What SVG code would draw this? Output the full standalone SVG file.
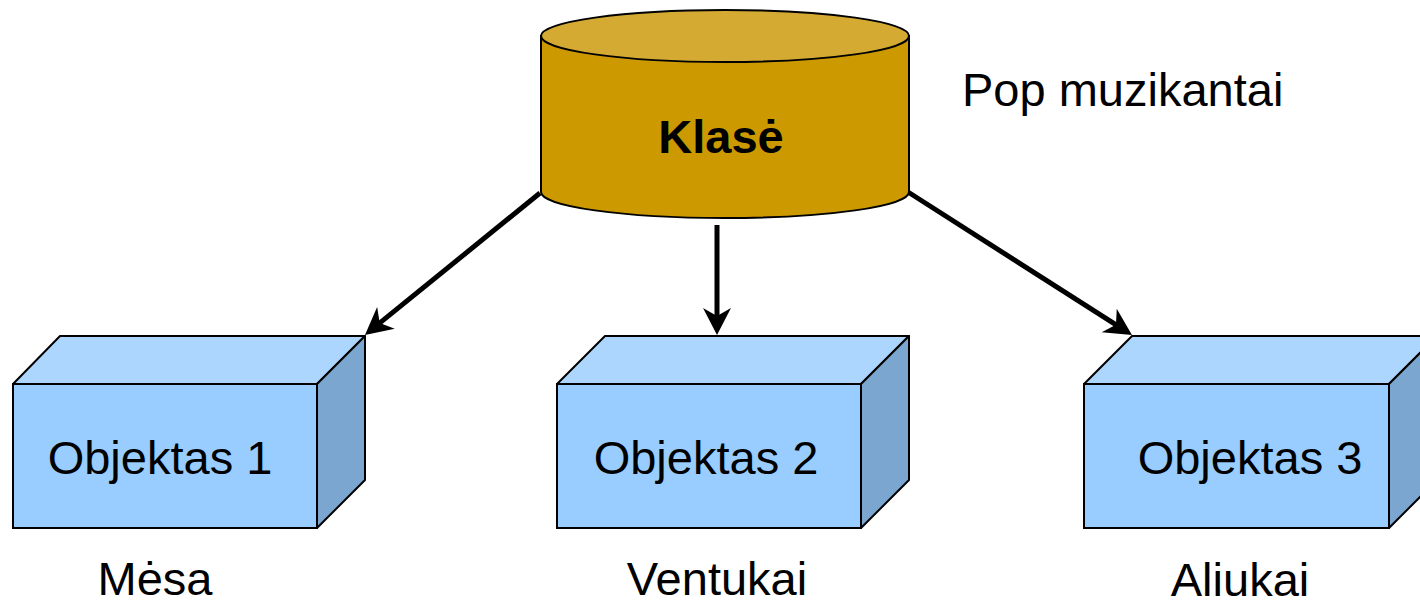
<svg xmlns="http://www.w3.org/2000/svg" width="1420" height="607" viewBox="0 0 1420 607">
<defs>
<style>
.lbl{font-family:"Liberation Sans",Arial,sans-serif;font-size:47px;fill:#000}
.bold{font-weight:bold}
.front{fill:#99CCFF;stroke:#000;stroke-width:2}
.top{fill:#ADD6FF;stroke:#000;stroke-width:2;stroke-linejoin:round}
.side{fill:#7BA6CF;stroke:#000;stroke-width:2;stroke-linejoin:round}
.conn{stroke:#000;stroke-width:5;fill:none;marker-end:url(#ah)}
</style>
<marker id="ah" markerUnits="userSpaceOnUse" viewBox="-30 -16 34 32" markerWidth="34" markerHeight="32" refX="-16" refY="0" orient="auto">
<path d="M0,0 L-27,-14 L-19,0 L-27,14 Z" fill="#000"/>
</marker>
</defs>
<rect width="1420" height="607" fill="#fff"/>
<g id="connectors">
<line class="conn" x1="540" y1="193" x2="377.4" y2="324.9"/>
<line class="conn" x1="717" y1="225" x2="717" y2="319"/>
<line class="conn" x1="908" y1="192" x2="1118.5" y2="326.4"/>
</g>
<g id="klase">
<path d="M541,36 L541,192 A184,26 0 0 0 909,192 L909,36 Z" fill="#CC9900" stroke="#000" stroke-width="2"/>
<ellipse cx="725" cy="36" rx="184" ry="26" fill="#D4AA33" stroke="#000" stroke-width="2"/>
<text class="lbl bold" x="721" y="153" text-anchor="middle">Klasė</text>
</g>
<g id="obj1">
<polygon class="top" points="13,384 60,336 365,336 317,384"/>
<polygon class="side" points="317,384 365,336 365,480 317,528"/>
<rect class="front" x="13" y="384" width="304" height="144"/>
<text class="lbl" x="160" y="474" text-anchor="middle">Objektas 1</text>
</g>
<g id="obj2">
<polygon class="top" points="557,384 605,336 909,336 861,384"/>
<polygon class="side" points="861,384 909,336 909,480 861,528"/>
<rect class="front" x="557" y="384" width="304" height="144"/>
<text class="lbl" x="706" y="474" text-anchor="middle">Objektas 2</text>
</g>
<g id="obj3">
<polygon class="top" points="1084,384 1132,336 1437,336 1389,384"/>
<polygon class="side" points="1389,384 1437,336 1437,480 1389,528"/>
<rect class="front" x="1084" y="384" width="305" height="144"/>
<text class="lbl" x="1250" y="474" text-anchor="middle">Objektas 3</text>
</g>
<g id="labels">
<text class="lbl" x="962" y="106">Pop muzikantai</text>
<text class="lbl" x="155" y="595" text-anchor="middle">Mėsa</text>
<text class="lbl" x="717" y="595" text-anchor="middle">Ventukai</text>
<text class="lbl" x="1240" y="596" text-anchor="middle">Aliukai</text>
</g>
</svg>
